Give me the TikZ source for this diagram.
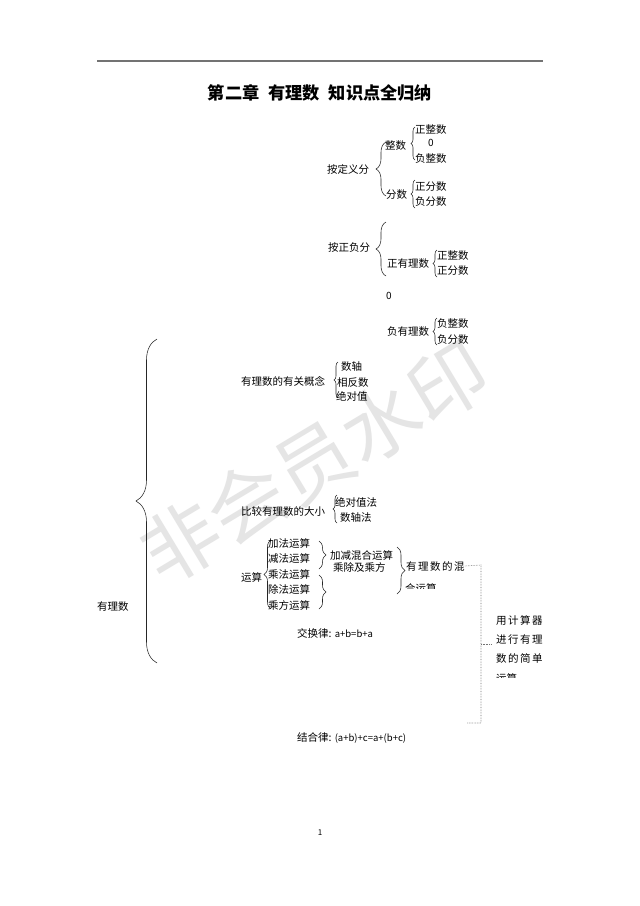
\documentclass[tikz,border=0pt]{standalone}
\usepackage{fontspec}
\setmainfont{Noto Sans CJK SC}
\usetikzlibrary{decorations.pathreplacing}
\begin{document}
\begin{tikzpicture}[x=1pt,y=-1pt,
  lbl/.style={anchor=west,inner sep=0pt,text height=8.3pt,text depth=0.3pt,font=\fontsize{10.5}{12}\selectfont},
  wide/.style={anchor=west,inner sep=0pt,text height=8.3pt,text depth=0.3pt,font=\fontsize{10.5}{12}\selectfont\addfontfeature{LetterSpace=14}},
  brc/.style={decorate,decoration={brace,amplitude=#1},line width=0.55pt,draw=black!85},
  dotl/.style={densely dotted,draw=black!55,line width=0.6pt}]
\useasboundingbox (0,0) rectangle (640,906);
\fill[white] (0,0) rectangle (640,906);

% watermark
\node[rotate=31,text=black!10,font=\fontsize{78}{80}\selectfont,inner sep=0pt] (wm) at (314,462) {非会员水印};

% header
\coordinate (ruleL) at (97,61);
\coordinate (ruleR) at (543,61);
\draw[black!55,line width=1.3pt] (ruleL) -- (ruleR);
\node[font=\fontsize{17.2}{19}\selectfont\bfseries,inner sep=0pt] (title) at (320,93) {第二章\hspace{9pt}有理数\hspace{9pt}知识点全归纳};

% tree 1: by definition
\node[lbl] (dingyi) at (327,169) {按定义分};
\draw[brc=10pt] (386,196) -- (386,142);
\node[lbl] (zhengshu) at (385,145) {整数};
\draw[brc=4pt] (415,160) -- (415,127);
\node[lbl] (zzs1) at (415,129) {正整数};
\node[inner sep=0pt,font=\fontsize{10}{11}\selectfont] (zero1) at (431,143) {0};
\node[lbl] (fzs1) at (415,158) {负整数};
\node[lbl] (fenshu) at (386,194) {分数};
\draw[brc=4pt] (415,208) -- (415,180);
\node[lbl] (zfs1) at (415,186) {正分数};
\node[lbl] (ffs1) at (415,201) {负分数};

% tree 2: by sign
\node[lbl] (zhengfu) at (328,247) {按正负分};
\draw[brc=10pt] (386,276) -- (386,222);
\node[lbl] (zyls) at (387,263) {正有理数};
\draw[brc=4pt] (437,277) -- (437,250);
\node[lbl] (zzs2) at (437,255) {正整数};
\node[lbl] (zfs2) at (437,270) {正分数};
\node[inner sep=0pt,font=\fontsize{10}{11}\selectfont] (zero2) at (389,296) {0};
\node[lbl] (fyls) at (387,331) {负有理数};
\draw[brc=4pt] (437,345) -- (437,318);
\node[lbl] (fzs2) at (437,323) {负整数};
\node[lbl] (ffs2) at (437,339) {负分数};

% big brace
\draw[brc=21pt] (157,663) -- (157,339);
\node[lbl] (root) at (97,606) {有理数};

% concepts
\node[lbl] (gainian) at (241,381) {有理数的有关概念};
\draw[brc=4pt] (338,398) -- (338,362);
\node[lbl] (shuzhou) at (341,366) {数轴};
\node[lbl] (xfs) at (337,382) {相反数};
\node[lbl] (jdz) at (336,396) {绝对值};

% compare
\node[lbl] (bijiao) at (241,511) {比较有理数的大小};
\draw[brc=4pt] (337,523) -- (337,495);
\node[lbl] (jdzf) at (335,502) {绝对值法};
\node[lbl] (szf) at (340,517) {数轴法};

% operations
\node[lbl] (yunsuan) at (241,577) {运算};
\draw[brc=7pt] (271,609) -- (271,540);
\node[lbl] (jia) at (268,543) {加法运算};
\node[lbl] (jian) at (268,558.5) {减法运算};
\node[lbl] (cheng) at (268,574) {乘法运算};
\node[lbl] (chu) at (268,589.5) {除法运算};
\node[lbl] (fang) at (268,605) {乘方运算};
\draw[brc=7pt] (319,541) -- (319,569);
\draw[brc=7pt] (319,575) -- (319,609);
\node[lbl] (jjhh) at (330,555) {加减混合运算};
\node[lbl] (ccjf) at (333,567) {乘除及乘方};
\draw[brc=8pt] (397,547) -- (397,594);
\node[wide] (hunhe) at (406,566) {有理数的混};
\begin{scope}
\clip (400,579) rectangle (480,588.5);
\node[lbl] (hunhe2) at (405,588) {合运算};
\end{scope}

% calculator block
\node[wide] (jsq1) at (496,620) {用计算器};
\node[wide] (jsq2) at (496,639) {进行有理};
\node[wide] (jsq3) at (496,658) {数的简单};
\begin{scope}
\clip (490,669) rectangle (560,677.5);
\node[lbl] (jsq4) at (496,678) {运算};
\end{scope}
\coordinate (dA) at (481,565);
\coordinate (dM) at (481,644);
\coordinate (dB) at (481,723);
\coordinate (dC) at (467,723);
\coordinate (dT) at (492,644);
\draw[dotl] (hunhe.east) -- (dA) -- (dB) -- (dC);
\draw[dotl] (dM) -- (dT);

% laws
\node[lbl] (jhl) at (297,633) {交换律: {\fontsize{9.5}{11}\selectfont a+b=b+a}};
\node[lbl] (jhel) at (297,737) {结合律: {\fontsize{9.5}{11}\selectfont (a+b)+c=a+(b+c)}};

% page number
\node[inner sep=0pt,font=\fontsize{8}{9}\selectfont] (pg) at (320,833) {1};
\end{tikzpicture}
\end{document}
